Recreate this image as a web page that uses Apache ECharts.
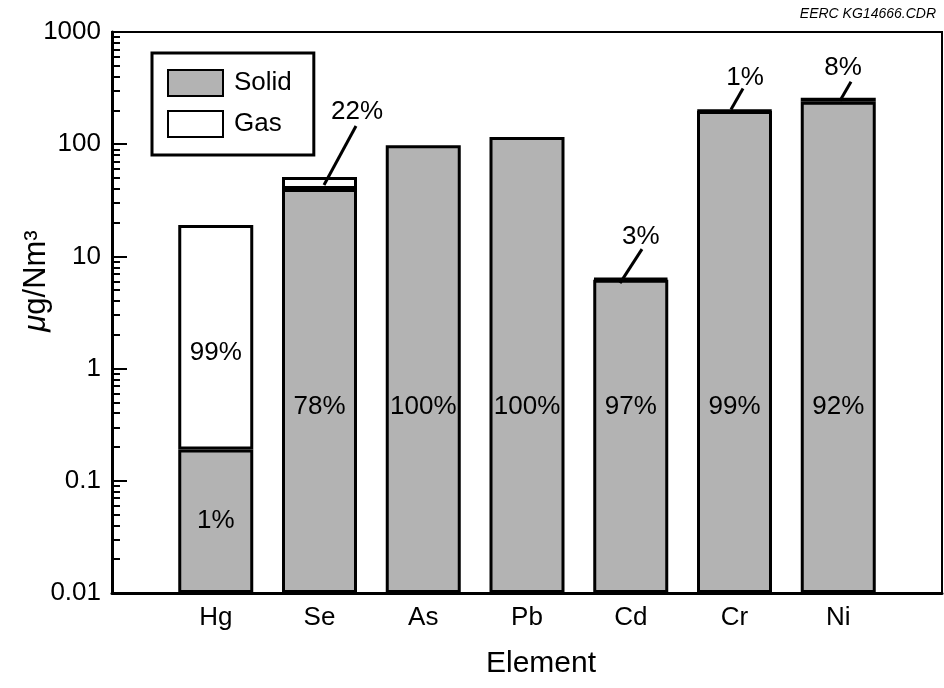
<!DOCTYPE html>
<html>
<head>
<meta charset="utf-8">
<script src="https://cdn.jsdelivr.net/npm/echarts@6/dist/echarts.min.js"></script>
<style>
  html, body { margin: 0; padding: 0; background: #fff; }
  #chart { width: 944px; height: 688px; }
</style>
</head>
<body>
<div id="chart"></div>
<script>
// Trace-element concentrations in flue gas, split into solid and gas phases
const elements = ['Hg', 'Se', 'As', 'Pb', 'Cd', 'Cr', 'Ni'];
const totalConc = [19, 51, 98, 116, 6.4, 200, 260];   // μg/Nm3
const solidPct = [1, 78, 100, 100, 97, 99, 92];
const gasPct = [99, 22, 0, 0, 3, 1, 8];
const yTickLabels = ['0.01', '0.1', '1', '10', '100', '1000'];
const calloutElements = ['Se', 'Cd', 'Cr', 'Ni'];

// leader-line geometry for the gas-share callouts, in px relative to the bar top
const calloutGeom = {
  Se: { line: [4.5, 8, 36.5, -51], text: [37.5, -65] },
  Cd: { line: [-10.75, 5, 11.25, -29], text: [10, -41] },
  Cr: { line: [-3.5, -1, 8.5, -22], text: [10.5, -33] },
  Ni: { line: [1.75, 3, 12.75, -16], text: [4.75, -30] }
};

const FONT = '"Liberation Sans", Arial, Helvetica, sans-serif';
const GRAY = '#b3b3b3';

const solidVals = elements.map((e, i) => totalConc[i] * solidPct[i] / 100);
const gasVals = elements.map((e, i) => gasPct[i] > 0 ? totalConc[i] * gasPct[i] / 100 : '-');

// category axis padded with an empty slot on each side
const categories = [''].concat(elements, ['']);

const solidData = ['-'].concat(elements.map((e, i) => ({
  value: solidVals[i],
  label: i === 0
    ? { show: true, position: 'inside' }
    : { show: true, position: 'insideBottom', distance: 173 }
})), ['-']);

const gasData = ['-'].concat(elements.map((e, i) => ({
  value: gasVals[i],
  label: i === 0
    ? { show: true, position: 'insideBottom', distance: 84 }
    : { show: false }
})), ['-']);

// minor ticks at 2..9 within each decade
const minorTicks = [];
for (let d = 0.01; d < 1000; d *= 10) {
  for (let k = 2; k <= 9; k++) minorTicks.push(+(k * d).toPrecision(3));
}
const majorTicks = yTickLabels.map(Number);

const calloutData = calloutElements.map(e => {
  const i = elements.indexOf(e);
  return [e, totalConc[i], gasPct[i]];
});

const chart = echarts.init(document.getElementById('chart'), null, { renderer: 'canvas' });

const labelText = { fontFamily: FONT, fontSize: 26, color: '#000' };

chart.setOption({
  animation: false,
  backgroundColor: '#fff',
  title: {
    text: 'EERC KG14666.CDR',
    right: 3,
    top: 2,
    textStyle: { fontFamily: FONT, fontSize: 14, fontStyle: 'italic', fontWeight: 'normal', color: '#000' }
  },
  grid: {
    left: 112, right: 2, top: 32, bottom: 95,
    show: true, borderColor: '#000', borderWidth: 2,
    outerBoundsMode: 'none'
  },
  legend: {
    data: ['Solid', 'Gas'],
    orient: 'vertical',
    left: 152,
    top: 53,
    padding: [16, 22, 17, 15],
    itemWidth: 55,
    itemHeight: 26,
    itemGap: 13,
    backgroundColor: '#fff',
    borderColor: '#000',
    borderWidth: 3,
    icon: 'rect',
    textStyle: { fontFamily: FONT, fontSize: 26, color: '#000', padding: [0, 0, 0, 6] }
  },
  xAxis: {
    type: 'category',
    data: categories,
    boundaryGap: false,
    name: 'Element',
    nameLocation: 'middle',
    nameGap: 56,
    nameTextStyle: { fontFamily: FONT, fontSize: 30, color: '#000', padding: [0, 0, 0, 28] },
    axisLine: { lineStyle: { color: '#000', width: 3 } },
    axisTick: { show: false },
    axisLabel: { fontFamily: FONT, fontSize: 26, color: '#000', margin: 12, interval: 0 },
    splitLine: { show: false }
  },
  yAxis: [{
    type: 'log',
    logBase: 10,
    min: 0.01,
    max: 1000,
    startValue: 0.01,
    name: '{i|μ}g/Nm³',
    nameLocation: 'middle',
    nameGap: 60,
    nameMoveOverlap: false,
    nameTextStyle: {
      fontFamily: FONT, fontSize: 31, color: '#000', padding: [0, 0, 0, 63],
      rich: { i: { fontFamily: FONT, fontSize: 31, fontStyle: 'italic', color: '#000' } }
    },
    axisLine: { show: true, lineStyle: { color: '#000', width: 3 } },
    axisTick: {
      show: true, inside: true, length: 15,
      lineStyle: { color: '#000', width: 2 },
      customValues: majorTicks
    },
    axisLabel: {
      fontFamily: FONT, fontSize: 26, color: '#000', margin: 11,
      customValues: majorTicks,
      formatter: v => yTickLabels[majorTicks.findIndex(t => Math.abs(Math.log10(t) - Math.log10(v)) < 1e-6)]
    },
    splitLine: { show: false }
  }, {
    type: 'log',
    logBase: 10,
    min: 0.01,
    max: 1000,
    position: 'left',
    axisLine: { show: false },
    axisLabel: { show: false },
    splitLine: { show: false },
    axisTick: {
      show: true, inside: true, length: 8,
      lineStyle: { color: '#000', width: 2 },
      customValues: minorTicks
    }
  }],
  series: [{
    name: 'Solid',
    type: 'bar',
    stack: 'phase',
    barWidth: 75,
    data: solidData,
    itemStyle: { color: GRAY, borderColor: '#000', borderWidth: 3 },
    label: Object.assign({ formatter: p => solidPct[p.dataIndex - 1] + '%' }, labelText)
  }, {
    name: 'Gas',
    type: 'bar',
    stack: 'phase',
    barWidth: 75,
    data: gasData,
    itemStyle: { color: '#fff', borderColor: '#000', borderWidth: 3 },
    label: Object.assign({ formatter: p => gasPct[p.dataIndex - 1] + '%' }, labelText)
  }, {
    name: 'callouts',
    type: 'custom',
    data: calloutData,
    encode: { x: 0, y: 1 },
    z: 5,
    renderItem: (params, api) => {
      const el = calloutData[params.dataIndex][0];
      const pt = api.coord([el, api.value(1)]);
      const g = calloutGeom[el];
      return {
        type: 'group',
        children: [{
          type: 'line',
          shape: { x1: pt[0] + g.line[0], y1: pt[1] + g.line[1], x2: pt[0] + g.line[2], y2: pt[1] + g.line[3] },
          style: { stroke: '#000', lineWidth: 3 }
        }, {
          type: 'text',
          x: pt[0] + g.text[0],
          y: pt[1] + g.text[1],
          style: {
            text: api.value(2) + '%',
            fontFamily: FONT, fontSize: 26, fill: '#000',
            align: 'center', verticalAlign: 'middle'
          }
        }]
      };
    }
  }]
});
</script>
</body>
</html>
